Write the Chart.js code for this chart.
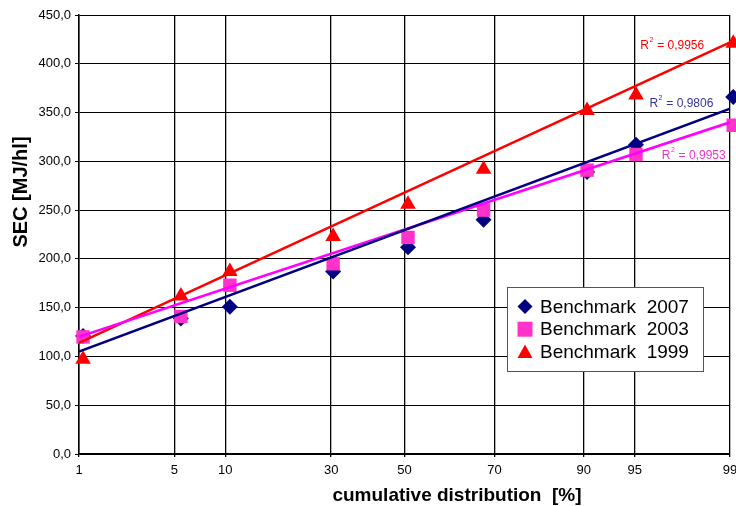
<!DOCTYPE html>
<html>
<head>
<meta charset="utf-8">
<script src="https://cdn.jsdelivr.net/npm/chart.js@4/dist/chart.umd.min.js"></script>
<style>
  html, body { margin: 0; padding: 0; background: #fff; }
</style>
</head>
<body>
<canvas id="chart" width="736" height="506"></canvas>
<script>
// --- data ---
const seriesNames = ["Benchmark 2007", "Benchmark 2003", "Benchmark 1999"];
const xPct    = [1.08, 5.5, 10.6, 30.5, 51, 71.4, 90.4, 95.1, 99.06];   // cumulative distribution [%]
const sec2007 = [121, 139, 151, 187, 212, 240, 289, 317, 366];
const sec2003 = [120, 141, 173, 195, 222, 250, 291, 307, 337];
const sec1999 = [97, 162, 187, 223, 256, 292, 352, 368, 421];

// trend line ends, at 1 % and at 99 %
const trend2007 = [105, 354];
const trend2003 = [120, 340];
const trend1999 = [114, 422];
const r2Text = ["0,9806", "0,9953", "0,9956"];

// x axis: probability scale
const tickLabels = ["1", "5", "10", "30", "50", "70", "90", "95", "99"];
const tickPct    = [1, 5, 10, 30, 50, 74, 90, 95, 99]; // "70" line sits a bit to the right in the original
const yMin = 0, yMax = 450, yStep = 50;

// --- helpers ---
// inverse normal cdf (Acklam)
function probit(p) {
    const a = [-3.969683028665376e+01, 2.209460984245205e+02, -2.759285104469687e+02, 1.383577518672690e+02, -3.066479806614716e+01, 2.506628277459239e+00];
    const b = [-5.447609879822406e+01, 1.615858368580409e+02, -1.556989798598866e+02, 6.680131188771972e+01, -1.328068155288572e+01];
    const c = [-7.784894002430293e-03, -3.223964580411365e-01, -2.400758277161838e+00, -2.549671010149289e+00, 4.374664141464968e+00, 2.938163982698783e+00];
    const d = [7.784695709041462e-03, 3.224671290700398e-01, 2.445134137142996e+00, 3.754408661907416e+00];
    const lo = 0.02425;
    let q, r;
    if (p < lo) {
        q = Math.sqrt(-2 * Math.log(p));
        return (((((c[0]*q+c[1])*q+c[2])*q+c[3])*q+c[4])*q+c[5]) / ((((d[0]*q+d[1])*q+d[2])*q+d[3])*q+1);
    }
    if (p > 1 - lo) {
        q = Math.sqrt(-2 * Math.log(1 - p));
        return -(((((c[0]*q+c[1])*q+c[2])*q+c[3])*q+c[4])*q+c[5]) / ((((d[0]*q+d[1])*q+d[2])*q+d[3])*q+1);
    }
    q = p - 0.5; r = q * q;
    return (((((a[0]*r+a[1])*r+a[2])*r+a[3])*r+a[4])*r+a[5])*q / (((((b[0]*r+b[1])*r+b[2])*r+b[3])*r+b[4])*r+1);
}

const zMin = probit(0.01), zMax = probit(0.99);
const FONT = "Arial, 'Liberation Sans', sans-serif";
const NAVY = "#000080", PINK = "#ff33cc", MAGENTA = "#ff00ff", RED = "#ff0000";

function points(vals) {
    return xPct.map((p, i) => ({ x: probit(p / 100), y: vals[i] }));
}
function trend(ends) {
    return [{ x: zMin, y: ends[0] }, { x: zMax, y: ends[1] }];
}

function marker(ctx, style, x, y, color) {
    ctx.fillStyle = color;
    ctx.beginPath();
    if (style === "rectRot") {
        ctx.moveTo(x, y - 7.5); ctx.lineTo(x + 7.5, y); ctx.lineTo(x, y + 7.5); ctx.lineTo(x - 7.5, y);
    } else if (style === "rect") {
        ctx.rect(x - 7.5, y - 7.5, 15, 15);
    } else {
        ctx.moveTo(x, y - 7.5); ctx.lineTo(x + 7.5, y + 6); ctx.lineTo(x - 7.5, y + 6);
    }
    ctx.closePath();
    ctx.fill();
}

const decor = {
    id: "decor",
    afterDatasetsDraw(chart) {
        const ctx = chart.ctx, xs = chart.scales.x, ys = chart.scales.y;

        // R² labels
        const labels = [
            { t: r2Text[2], c: RED,  p: 95.4, v: 419 },
            { t: r2Text[0], c: "#333399", p: 96.0, v: 359.5 },
            { t: r2Text[1], c: "#ee33cc", p: 96.7, v: 306 },
        ];
        ctx.save();
        ctx.textBaseline = "middle";
        ctx.textAlign = "left";
        for (const l of labels) {
            let x = xs.getPixelForValue(probit(l.p / 100));
            const y = ys.getPixelForValue(l.v);
            ctx.fillStyle = l.c;
            ctx.font = "12px " + FONT;
            ctx.fillText("R", x, y);
            x += ctx.measureText("R").width;
            ctx.font = "7px " + FONT;
            ctx.fillText("2", x + 0.5, y - 5);
            x += ctx.measureText("2").width + 1;
            ctx.font = "12px " + FONT;
            ctx.fillText(" = " + l.t, x, y);
        }

        // legend box
        const bx = chart.chartArea.right - 223, by = chart.chartArea.top + 272;
        ctx.fillStyle = "#fff";
        ctx.fillRect(bx, by, 196, 84);
        ctx.strokeStyle = "#555";
        ctx.lineWidth = 1;
        ctx.strokeRect(bx + 0.5, by + 0.5, 196, 84);
        const styles = ["rectRot", "rect", "triangle"];
        const colors = [NAVY, PINK, RED];
        ctx.font = "19px " + FONT;
        for (let i = 0; i < 3; i++) {
            const y = by + 19.5 + i * 22.7;
            marker(ctx, styles[i], bx + 18, y, colors[i]);
            ctx.fillStyle = "#000";
            ctx.fillText(seriesNames[i].replace(" ", "  "), bx + 33, y + 1);
        }
        ctx.restore();
    },
    afterDraw(chart) {
        const ctx = chart.ctx;
        ctx.save();
        ctx.fillStyle = "#000";
        ctx.textAlign = "center";
        ctx.textBaseline = "middle";
        ctx.font = "bold 19px " + FONT;
        ctx.fillText("cumulative distribution  [%]", 457, 496);
        ctx.translate(21, 192);
        ctx.rotate(-Math.PI / 2);
        ctx.font = "bold 20px " + FONT;
        ctx.fillText("SEC [MJ/hl]", 0, 0);
        ctx.restore();
    }
};

new Chart(document.getElementById("chart"), {
    type: "scatter",
    data: {
        datasets: [
            { label: seriesNames[0], data: points(sec2007), pointStyle: "rectRot", pointRadius: 8,
              backgroundColor: NAVY, borderColor: NAVY, borderWidth: 0, clip: false, order: 3 },
            { label: seriesNames[1], data: points(sec2003), pointStyle: "rect", pointRadius: 9.5,
              backgroundColor: PINK, borderColor: PINK, borderWidth: 0, clip: false, order: 2 },
            { label: seriesNames[2], data: points(sec1999), pointStyle: "triangle", pointRadius: 9,
              backgroundColor: RED, borderColor: RED, borderWidth: 0, clip: false, order: 1 },
            { label: "trend 2007", data: trend(trend2007), showLine: true, borderColor: NAVY,
              borderWidth: 2.5, pointRadius: 0, order: 0 },
            { label: "trend 2003", data: trend(trend2003), showLine: true, borderColor: MAGENTA,
              borderWidth: 2.5, pointRadius: 0, order: 0 },
            { label: "trend 1999", data: trend(trend1999), showLine: true, borderColor: RED,
              borderWidth: 2.5, pointRadius: 0, order: 0 },
        ],
    },
    options: {
        responsive: false,
        animation: false,
        layout: { autoPadding: false, padding: { top: 15, right: 6, left: 0, bottom: 0 } },
        plugins: { legend: { display: false }, tooltip: { enabled: false } },
        scales: {
            x: {
                type: "linear",
                min: zMin, max: zMax,
                afterBuildTicks: s => { s.ticks = tickPct.map(p => ({ value: probit(p / 100) })); },
                afterFit: s => { s.height = 52; s.paddingRight = 0; s.paddingLeft = 0; },
                ticks: {
                    callback: (v, i) => tickLabels[i],
                    autoSkip: false, maxRotation: 0, padding: 6,
                    color: "#000", font: { family: FONT, size: 13 },
                },
                grid: { color: "#000", lineWidth: 1.3, tickLength: 3 },
                border: { color: "#000", width: 1.5 },
            },
            y: {
                min: yMin, max: yMax,
                afterFit: s => { s.width = 79; s.paddingTop = 0; },
                ticks: {
                    stepSize: yStep,
                    callback: v => v.toFixed(1).replace(".", ","),
                    padding: 4,
                    color: "#000", font: { family: FONT, size: 13 },
                },
                grid: { color: "#000", lineWidth: 1, tickLength: 4 },
                border: { color: "#000", width: 1.5 },
            },
        },
    },
    plugins: [decor],
});
</script>
</body>
</html>
